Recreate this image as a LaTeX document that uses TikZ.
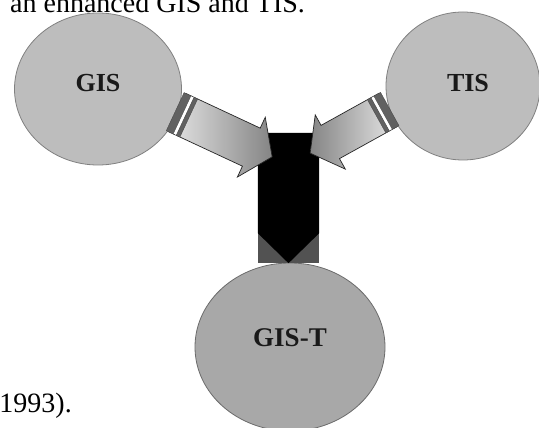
\documentclass[tikz,border=0pt]{standalone}
\usepackage{fontspec}
\setmainfont{Liberation Serif}
\usetikzlibrary{shapes.geometric}

\tikzset{
	sys/.style={ellipse, draw=black!50, line width=0.8pt, fill=black!26, inner sep=0pt},
	syslabel/.style={font=\fontsize{26}{28}\selectfont\bfseries, text=black!90, inner sep=0pt},
	fatarrow/.style={draw=black!85, line width=0.7pt, left color=black!10, right color=black!48},
	band/.style={fill=black!62, draw=black!70, line width=0.4pt},
	prose/.style={font=\fontsize{28}{30}\selectfont, inner sep=0pt}
}

\begin{document}
\begin{tikzpicture}[x=1pt, y=-1pt]
	\useasboundingbox[fill=white] (0,0) rectangle (539,428);

	% surrounding text lines
	\node[prose, anchor=base west] (caption) at (10,13) {an enhanced GIS and TIS.};
	\node[prose, anchor=base east] (source) at (72,412) {1993).};

	% the three systems
	\node[sys, minimum width=167pt, minimum height=152pt] (gis) at (98,89) {};
	\node[sys, minimum width=154pt, minimum height=148pt] (tis) at (463,86) {};
	\node[sys, fill=black!34, draw=black!58, minimum width=190pt, minimum height=168pt] (gist) at (290,347) {};

	\node[syslabel] (gistext) at ([yshift=6pt]gis.center) {GIS};
	\node[syslabel] (tistext) at ([xshift=5pt, yshift=3pt]tis.center) {TIS};
	\node[syslabel, font=\fontsize{27}{29}\selectfont\bfseries] (gisttext) at ([yshift=9pt]gist.center) {GIS-T};

	% the joining block
	\node[fill=black!68, inner sep=0pt, minimum width=61pt, minimum height=130pt] (hub) at (288.5,198) {};
	\fill[black] (hub.north west) -- (hub.north east) -- ([yshift=30pt]hub.south east)
		-- (hub.south) -- ([yshift=30pt]hub.south west) -- cycle;

	\coordinate (gistail) at (177,112.5);
	\coordinate (tistail) at (388,110);

	% arrow from GIS
	\begin{scope}[shift={(gistail)}, rotate=-25]
		\draw[fatarrow] (0,-21) -- (82,-21) -- (82,-33) -- (105,0) -- (82,33) -- (82,21) -- (0,21) -- cycle;
		\draw[band] (-2,-21) rectangle (6,21);
		\fill[white] (6,-20.6) rectangle (9,20.6);
		\draw[band] (9,-21) rectangle (13,21);
	\end{scope}

	% arrow from TIS
	\begin{scope}[shift={(tistail)}, rotate=-151]
		\draw[fatarrow, left color=black!48, right color=black!10] (0,-19) -- (66,-19) -- (66,-31) -- (89,0) -- (66,31) -- (66,19) -- (0,19) -- cycle;
		\draw[band] (-2,-19) rectangle (6,19);
		\fill[white] (6,-18.6) rectangle (9,18.6);
		\draw[band] (9,-19) rectangle (13,19);
	\end{scope}
\end{tikzpicture}
\end{document}
